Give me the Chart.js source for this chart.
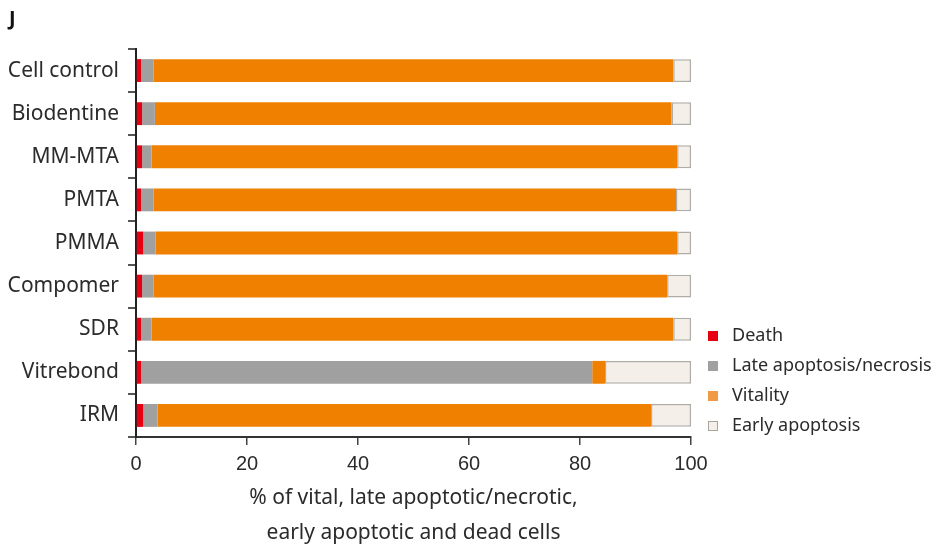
<!DOCTYPE html>
<html>
<head>
<meta charset="utf-8">
<script src="https://cdn.jsdelivr.net/npm/chart.js@4.4.1/dist/chart.umd.min.js"></script>
<style>
    html, body { margin: 0; padding: 0; background: #fff; }
    #wrap { width: 936px; height: 545px; }
</style>
</head>
<body>
<div id="wrap"><canvas id="myChart"></canvas></div>
<script>
const groups = ['Cell control', 'Biodentine', 'MM-MTA', 'PMTA', 'PMMA', 'Compomer', 'SDR', 'Vitrebond', 'IRM']
const death = [0.9, 1.1, 1.1, 0.9, 1.3, 1.1, 0.9, 0.9, 1.3]
const lateApoptosis = [2.3, 2.3, 1.7, 2.3, 2.2, 2.1, 1.9, 81.3, 2.6]
const vitality = [93.6, 93.1, 94.7, 94.1, 94.0, 92.5, 94.0, 2.3, 88.9]
const earlyApoptosis = [3.2, 3.5, 2.5, 2.7, 2.5, 4.3, 3.2, 15.5, 7.2]
const xTicks = [0, 20, 40, 60, 80, 100]
const axisTitle = ['% of vital, late apoptotic/necrotic,', 'early apoptotic and dead cells']

const textColor = '#2b2b2b'

// legend squares use slightly different colours than the bars
const legendItems = [
    { text: 'Death', fill: '#e60012', stroke: null },
    { text: 'Late apoptosis/necrosis', fill: '#a0a0a0', stroke: null },
    { text: 'Vitality', fill: '#f09a45', stroke: null },
    { text: 'Early apoptosis', fill: '#f4f0e9', stroke: '#a8a49e' }
]

const extras = {
    id: 'extras',
    afterDraw: (chart) => {
        const ctx = chart.ctx
        ctx.save()
        // panel letter
        ctx.fillStyle = '#111'
        ctx.font = 'bold 20px "Noto Sans"'
        ctx.textBaseline = 'middle'
        ctx.textAlign = 'left'
        ctx.fillText('J', 9, 19)

        // legend
        ctx.font = '18px "Noto Sans"'
        legendItems.forEach((item, i) => {
            const y = 336 + i * 30
            ctx.fillStyle = item.fill
            ctx.fillRect(708, y - 5, 10, 10)
            if (item.stroke) {
                ctx.strokeStyle = item.stroke
                ctx.lineWidth = 1
                ctx.strokeRect(708.5, y - 4.5, 9, 9)
            }
            ctx.fillStyle = textColor
            ctx.fillText(item.text, 732, y)
        })
        ctx.restore()
    }
}

const ctx = document.getElementById('myChart').getContext('2d')
new Chart(ctx, {
    type: 'bar',
    data: {
        labels: groups,
        datasets: [
            { label: 'Death', data: death, backgroundColor: '#e60012' },
            { label: 'Late apoptosis/necrosis', data: lateApoptosis, backgroundColor: '#a0a0a0' },
            { label: 'Vitality', data: vitality, backgroundColor: '#f08000' },
            { label: 'Early apoptosis', data: earlyApoptosis, backgroundColor: '#f4f0e9', borderColor: '#b0aca6', borderWidth: 1.5, borderSkipped: false }
        ]
    },
    options: {
        indexAxis: 'y',
        responsive: true,
        maintainAspectRatio: false,
        animation: false,
        devicePixelRatio: 1,
        layout: { padding: { left: 0, right: 245, top: 49, bottom: 0 } },
        datasets: {
            bar: { barPercentage: 0.53, categoryPercentage: 1 }
        },
        plugins: {
            legend: { display: false },
            tooltip: { enabled: false }
        },
        scales: {
            x: {
                stacked: true,
                min: 0,
                max: 100,
                afterBuildTicks: (scale) => { scale.ticks = xTicks.map(v => ({ value: v })) },
                afterFit: (scale) => { scale.height = 108 },
                border: { display: true, color: '#333', width: 2 },
                grid: { drawOnChartArea: false, drawTicks: true, tickLength: 8, color: '#444', lineWidth: 1.5 },
                ticks: {
                    color: textColor,
                    padding: 7,
                    font: { family: '"Liberation Sans", Arial', size: 20 }
                },
                title: {
                    display: true,
                    text: axisTitle,
                    color: textColor,
                    padding: { top: 0, bottom: -6 },
                    font: { family: '"Noto Sans"', size: 21, lineHeight: 1.67 }
                }
            },
            y: {
                stacked: true,
                afterFit: (scale) => { scale.width = 136 },
                border: { display: true, color: '#222', width: 2 },
                grid: { offset: true, drawOnChartArea: false, drawTicks: true, tickLength: 8, color: '#555', lineWidth: 2 },
                ticks: {
                    color: textColor,
                    padding: 9,
                    font: { family: '"Noto Sans"', size: 21 }
                }
            }
        }
    },
    plugins: [extras]
})
</script>
</body>
</html>
